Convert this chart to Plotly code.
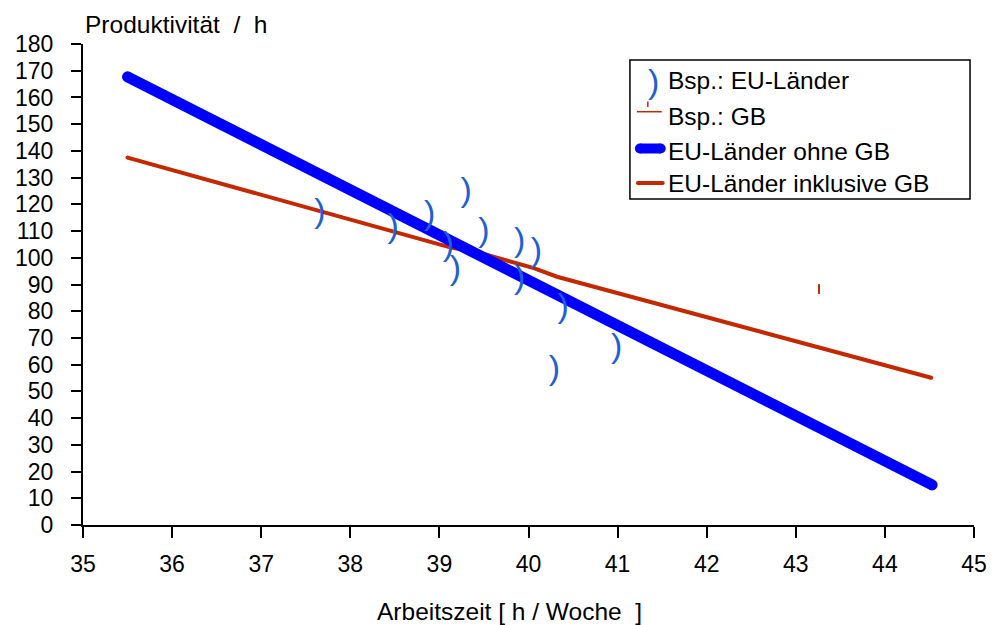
import plotly.graph_objects as go

# ---------------- data ----------------
eu_x = [37.66, 38.48, 38.89, 39.30, 39.10, 39.18, 39.50, 39.90, 40.09, 39.90, 40.39, 40.99, 40.29]
eu_y = [116.7, 111.0, 116.0, 124.4, 104.2, 95.4, 109.4, 105.7, 101.9, 91.7, 81.1, 66.1, 58.0]

gb_x = [43.26]
gb_y = [88.3]

blue_x = [35.50, 39.28, 39.51, 44.53]
blue_y = [167.7, 103.6, 100.4, 15.0]

red_x = [35.50, 39.11, 39.51, 40.06, 40.32, 44.52]
red_y = [137.5, 104.0, 101.3, 96.1, 92.9, 55.1]

x_ticks = list(range(35, 46))
y_ticks = list(range(0, 181, 10))

legend_labels = ["Bsp.: EU-Länder", "Bsp.: GB", "EU-Länder ohne GB", "EU-Länder inklusive GB"]

# ---------------- style ----------------
W, H = 999, 625
L, R, T, B = 83, 20, 44, 100
FONT = "Liberation Sans, Arial, Helvetica, sans-serif"
BLUE_LINE = "#0000ff"
BLUE_MARK = "#1f5fd6"
RED = "#c42800"


def px(xp):
    return (xp - L) / (W - L - R)


def py(yp):
    return (H - B - yp) / (H - T - B)


fig = go.Figure()

fig.add_trace(go.Scatter(
    x=red_x, y=red_y, mode="lines+markers",
    line=dict(color=RED, width=4),
    marker=dict(color=RED, opacity=1, line=dict(width=0),
                size=[4] + [0] * (len(red_x) - 2) + [4]),
    showlegend=False, hoverinfo="skip"))

fig.add_trace(go.Scatter(
    x=blue_x, y=blue_y, mode="lines+markers",
    line=dict(color=BLUE_LINE, width=11),
    marker=dict(color=BLUE_LINE, opacity=1, line=dict(width=0),
                size=[11] + [0] * (len(blue_x) - 2) + [11]),
    showlegend=False, hoverinfo="skip"))

fig.add_trace(go.Scatter(
    x=eu_x, y=eu_y, mode="text", text=[")"] * len(eu_x),
    textposition="middle center",
    textfont=dict(family=FONT, size=34, color=BLUE_MARK),
    cliponaxis=False, showlegend=False, hoverinfo="skip"))

fig.add_trace(go.Scatter(
    x=gb_x, y=gb_y, mode="markers",
    marker=dict(symbol="line-ns", size=7, line=dict(color=RED, width=2)),
    showlegend=False, hoverinfo="skip"))

# ---------------- manual legend ----------------
shapes = []
annotations = []
shapes.append(dict(type="rect", xref="paper", yref="paper",
                   x0=px(633), x1=px(975), y0=py(60), y1=py(199),
                   line=dict(color="black", width=1.5), fillcolor="white", layer="below"))

row_y = [81, 117, 151.5, 183.5]
text_x = 669


def cap(xc, yc, d, color):
    shapes.append(dict(type="circle", xref="paper", yref="paper",
                       x0=px(xc - d / 2), x1=px(xc + d / 2),
                       y0=py(yc + d / 2), y1=py(yc - d / 2),
                       line=dict(width=0), fillcolor=color))


# row 1: arc symbol
annotations.append(dict(xref="paper", yref="paper", x=px(656.5), y=py(81),
                        text=")", showarrow=False, xanchor="center", yanchor="middle",
                        font=dict(family=FONT, size=34, color=BLUE_MARK)))
# row 2: GB symbol (line + tick)
shapes.append(dict(type="line", xref="paper", yref="paper",
                   x0=px(640), x1=px(665), y0=py(111.7), y1=py(111.7),
                   line=dict(color=RED, width=1.5)))
shapes.append(dict(type="line", xref="paper", yref="paper",
                   x0=px(651), x1=px(651), y0=py(101.5), y1=py(107),
                   line=dict(color=RED, width=1.5)))
# row 3: thick blue with round caps
shapes.append(dict(type="line", xref="paper", yref="paper",
                   x0=px(643), x1=px(664), y0=py(148.5), y1=py(148.5),
                   line=dict(color=BLUE_LINE, width=10)))
cap(643, 148.5, 10, BLUE_LINE)
cap(664, 148.5, 10, BLUE_LINE)
# row 4: red line
shapes.append(dict(type="line", xref="paper", yref="paper",
                   x0=px(641), x1=px(666), y0=py(183), y1=py(183),
                   line=dict(color=RED, width=4)))
cap(641, 183, 4, RED)
cap(666, 183, 4, RED)

for lab, yy in zip(legend_labels, row_y):
    annotations.append(dict(xref="paper", yref="paper", x=px(text_x), y=py(yy),
                            text=lab, showarrow=False, xanchor="left", yanchor="middle",
                            font=dict(family=FONT, size=24.5, color="black")))

# axis titles
annotations.append(dict(xref="paper", yref="paper", x=px(83), y=py(25),
                        text="Produktivität\u00a0\u00a0/\u00a0\u00a0h", showarrow=False,
                        xanchor="left", yanchor="middle",
                        font=dict(family=FONT, size=24.5, color="black")))
annotations.append(dict(xref="paper", yref="paper", x=px(377), y=py(611),
                        text="Arbeitszeit [ h / Woche\u00a0\u00a0]", showarrow=False,
                        xanchor="left", yanchor="middle",
                        font=dict(family=FONT, size=24.5, color="black")))

fig.update_layout(
    width=W, height=H,
    margin=dict(l=L, r=R, t=T, b=B, pad=0),
    paper_bgcolor="white", plot_bgcolor="white",
    showlegend=False,
    shapes=shapes, annotations=annotations,
    font=dict(family=FONT, size=23, color="black"),
)

fig.update_xaxes(range=[35, 45], tickvals=x_ticks, ticktext=[str(v) for v in x_ticks],
                 showgrid=False, zeroline=False, showline=True, linecolor="black", linewidth=2,
                 ticks="outside", ticklen=11, tickwidth=2, tickcolor="black",
                 tickfont=dict(family=FONT, size=23, color="black"), ticklabelstandoff=6)
fig.update_yaxes(range=[0, 180], tickvals=y_ticks, ticktext=[str(v) for v in y_ticks],
                 showgrid=False, zeroline=False, showline=True, linecolor="black", linewidth=2,
                 ticks="outside", ticklen=10, tickwidth=2, tickcolor="black",
                 tickfont=dict(family=FONT, size=23, color="black"), ticklabelstandoff=13)

fig.write_html("out.html")
